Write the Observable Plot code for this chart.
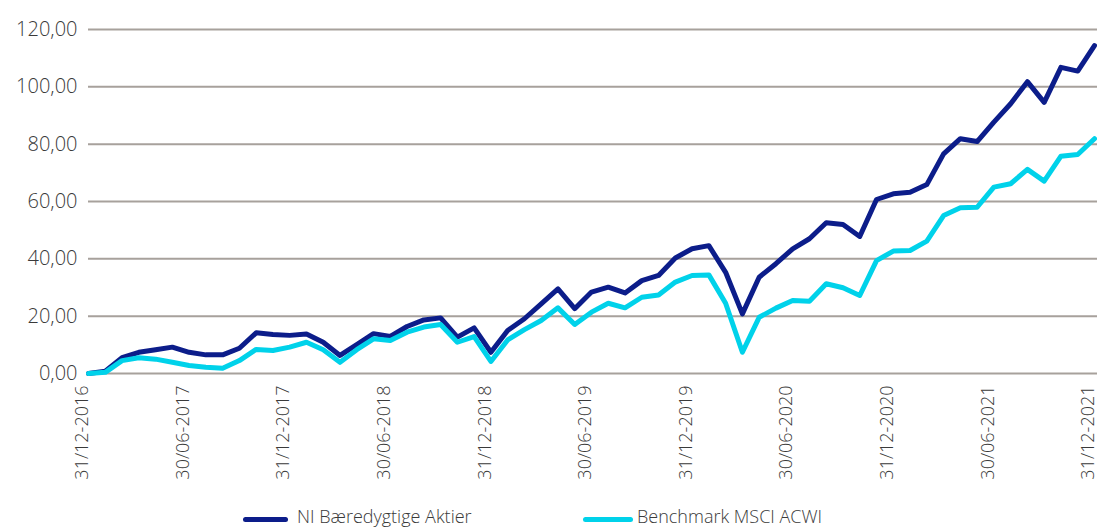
<!DOCTYPE html>
<html>
<head>
<meta charset="utf-8">
<script src="https://cdn.jsdelivr.net/npm/d3@7"></script>
<script src="https://cdn.jsdelivr.net/npm/@observablehq/plot@0.6"></script>
<style>
  html, body { margin: 0; padding: 0; background: #fff; overflow: hidden; }
  body { width: 1097px; height: 529px; position: relative; font-family: "Open Sans", sans-serif; font-weight: 300; color: #3a3a3a; }
  #chart { position: absolute; left: 0; top: 0; }
  .leg { position: absolute; top: 503px; height: 30px; font-size: 18px; white-space: nowrap; }
  .sw { position: absolute; top: 14px; height: 5px; border-radius: 3px; }
  .lt { position: absolute; top: 0; line-height: 26px; }
</style>
</head>
<body>
<div id="chart"></div>
<div id="legend"></div>
<script>
// Monthly index 0 = 31/12-2016 ... 60 = 31/12-2021
const tickLabels = ["31/12-2016","30/06-2017","31/12-2017","30/06-2018","31/12-2018","30/06-2019","31/12-2019","30/06-2020","31/12-2020","30/06-2021","31/12-2021"];
const tickIdx = [0, 6, 12, 18, 24, 30, 36, 42, 48, 54, 60];
const yTicks = [0, 20, 40, 60, 80, 100, 120];

const seriesNames = ["NI Bæredygtige Aktier", "Benchmark MSCI ACWI"];
const seriesColors = ["#0c1d8a", "#00d2ea"];

const fund = [0, 0.8, 5.5, 7.4, 8.3, 9.2, 7.4, 6.5, 6.5, 8.8, 14.2, 13.6, 13.3, 13.8, 10.9, 6.3, 10.1,
  13.9, 12.9, 16.4, 18.7, 19.4, 12.7, 15.9, 7.4, 15.0, 19.1, 24.3, 29.5, 22.6, 28.4, 30.1, 28.1, 32.4, 34.2,
  40.3, 43.5, 44.6, 35.3, 20.8, 33.6, 38.3, 43.5, 47.0, 52.6, 52.0, 47.8, 60.7, 62.7, 63.2, 65.9, 76.6, 81.9,
  80.9, 87.7, 94.1, 101.8, 94.6, 106.8, 105.5, 114.4];
const bench = [0, 0.4, 4.5, 5.5, 5.0, 3.9, 2.8, 2.2, 1.8, 4.5, 8.4, 8.0, 9.2, 10.9, 8.3, 3.9, 8.3,
  12.1, 11.5, 14.4, 16.2, 17.1, 10.9, 12.9, 4.2, 11.7, 15.3, 18.5, 22.9, 17.1, 21.4, 24.5, 22.9, 26.6, 27.4,
  31.9, 34.2, 34.4, 24.5, 7.4, 19.6, 22.8, 25.5, 25.2, 31.3, 29.9, 27.2, 39.4, 42.7, 42.9, 46.2, 55.1, 57.8,
  58.0, 65.0, 66.2, 71.2, 67.1, 75.8, 76.4, 81.9];

const fundData = fund.map((v, i) => ({i, v}));
const benchData = bench.map((v, i) => ({i, v}));
const labelOf = new Map(tickIdx.map((t, k) => [t, tickLabels[k]]));

const chart = Plot.plot({
  width: 1097,
  height: 500,
  marginLeft: 88,
  marginRight: 0,
  marginTop: 29,
  marginBottom: 127,
  style: {fontFamily: "'Open Sans', sans-serif", fontWeight: 300, color: "#3a3a3a", background: "#fff"},
  x: {domain: [0, 60.18]},
  y: {domain: [0, 120]},
  marks: [
    Plot.gridY(yTicks, {stroke: "#a7a19c", strokeOpacity: 1, strokeWidth: 2}),
    Plot.axisY(yTicks, {tickSize: 0, tickPadding: 11, fontSize: 20, label: null,
      tickFormat: d => d.toFixed(2).replace(".", ",")}),
    Plot.axisX(tickIdx, {tickSize: 0, tickPadding: 12, tickRotate: -90, fontSize: 18, label: null, dx: -6,
      tickFormat: d => labelOf.get(d)}),
    Plot.line(fundData, {x: "i", y: "v", stroke: seriesColors[0], strokeWidth: 5, strokeLinejoin: "round"}),
    Plot.line(benchData, {x: "i", y: "v", stroke: seriesColors[1], strokeWidth: 5, strokeLinejoin: "round"})
  ]
});
document.getElementById("chart").append(chart);

const legendPos = [{sw: 243, swW: 45, tx: 297}, {sw: 583, swW: 50, tx: 637}];
const legend = document.getElementById("legend");
seriesNames.forEach((name, k) => {
  const d = document.createElement("div");
  d.className = "leg";
  d.style.left = "0px";
  d.innerHTML = `<div class="sw" style="left:${legendPos[k].sw}px;width:${legendPos[k].swW}px;background:${seriesColors[k]}"></div>` +
    `<div class="lt" style="left:${legendPos[k].tx}px">${name}</div>`;
  legend.append(d);
});
</script>
</body>
</html>
